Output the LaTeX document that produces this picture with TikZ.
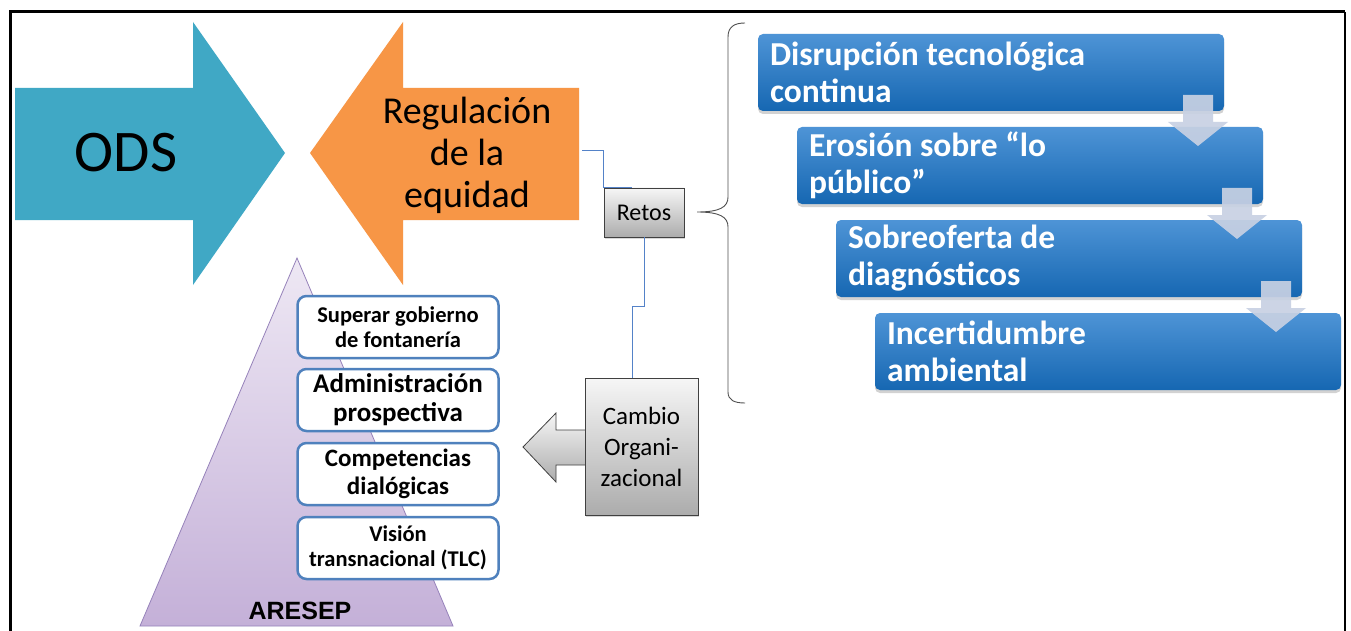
\documentclass[tikz,border=0pt]{standalone}
\usepackage{fontspec}
\setmainfont{Carlito}
\newfontfamily\arialfont{Liberation Sans}
\usetikzlibrary{shadows,calc}
\definecolor{odsTeal}{RGB}{64,168,197}
\definecolor{regOrange}{RGB}{247,150,70}
\definecolor{boxBlue}{RGB}{79,129,189}
\definecolor{connBlue}{RGB}{84,130,200}
\definecolor{blueT}{RGB}{78,148,214}
\definecolor{blueM}{RGB}{34,116,192}
\definecolor{blueB}{RGB}{22,103,178}
\definecolor{grayT}{RGB}{246,246,246}
\definecolor{grayB}{RGB}{172,172,172}
\definecolor{grayLine}{RGB}{64,64,64}
\definecolor{pyrT}{RGB}{238,232,244}
\definecolor{pyrB}{RGB}{196,176,216}
\definecolor{pyrLine}{RGB}{150,130,186}
\definecolor{arrowFill}{RGB}{200,209,227}
\definecolor{braceGray}{RGB}{80,80,80}
\tikzset{
  wbox/.style={draw=boxBlue, line width=2.5pt, fill=white, rounded corners=9pt,
    minimum width=201pt, minimum height=62pt, align=center, font=\bfseries, inner sep=2pt},
  gbox/.style={draw=grayLine, line width=0.8pt, top color=grayT, bottom color=grayB,
    align=center, inner sep=2pt,
    drop shadow={shadow xshift=1pt, shadow yshift=-1.5pt, opacity=0.3}},
  bbox/.style={rounded corners=5pt, top color=blueT, middle color=blueM, bottom color=blueB,
    minimum width=466pt, minimum height=77pt, text=white, align=flush left,
    inner xsep=12pt, text width=442pt,
    font=\bfseries\fontsize{33.5}{37}\selectfont,
    drop shadow={shadow xshift=0pt, shadow yshift=-3pt, opacity=0.35}},
  darrow/.style={fill=arrowFill, opacity=0.92},
  conn/.style={draw=connBlue, line width=0.8pt},
}
\begin{document}
\begin{tikzpicture}[x=1pt,y=-1pt]
\useasboundingbox (0,0) rectangle (1351,631);
\fill[white] (0,0) rectangle (1351,631);
% frame
\draw[line width=3pt] (10,632) -- (10,12) -- (1345,12);
\draw[line width=1.5pt] (1345,12) -- (1345,632);

% ODS arrow
\fill[odsTeal] (15,88) -- (193,88) -- (193,22) -- (285,153) -- (193,285) -- (193,220) -- (15,220) -- cycle;
\node[font=\fontsize{59}{64}\selectfont] (ods) at (126,153) {ODS};

% Regulacion arrow
\fill[regOrange] (579,88) -- (403,88) -- (403,22) -- (310,153) -- (403,285) -- (403,220) -- (579,220) -- cycle;
\node[align=center, font=\fontsize{38}{42}\selectfont] (reg) at (467,155) {Regulación\\de la\\equidad};
\coordinate (regE) at (582,150);

% pyramid
\shade[top color=pyrT, bottom color=pyrB] (297,258) -- (453,626) -- (140,626) -- cycle;
\draw[pyrLine, line width=0.8pt] (297,258) -- (453,626) -- (140,626) -- cycle;
\node[font=\arialfont\bfseries\fontsize{25}{28}\selectfont] (aresep) at (300,611) {ARESEP};

% white boxes
\node[wbox, font=\bfseries\fontsize{22.5}{25}\selectfont] (w1) at (398,327) {Superar gobierno\\de fontanería};
\node[wbox, font=\bfseries\fontsize{27}{29}\selectfont] (w2) at (398,400) {Administración\\prospectiva};
\node[wbox, font=\bfseries\fontsize{25}{28}\selectfont] (w3) at (398,474) {Competencias\\dialógicas};
\node[wbox, font=\bfseries\fontsize{22.5}{25}\selectfont] (w4) at (398,548) {Visión\\transnacional (TLC)};

% gray arrow to the pyramid
\shade[top color=grayT, bottom color=grayB, draw=grayLine, line width=0.8pt]
  (587,430) -- (556,430) -- (556,413) -- (523,447) -- (556,482) -- (556,465) -- (587,465);

% gray boxes
\node[gbox, minimum width=80pt, minimum height=49pt, font=\fontsize{24}{28}\selectfont] (retos) at (644,212.5) {Retos};
\node[gbox, minimum width=113pt, minimum height=137pt, font=\fontsize{25}{31}\selectfont] (cambio) at (641.5,446.5) {Cambio\\Organi-\\zacional};

% connectors
\draw[conn] (regE) -| (retos.north west) -- ++(28,0);
\coordinate (jog) at (632,306);
\draw[conn] (retos.south) |- (jog) -- (jog |- cambio.north);

% brace
\coordinate (brtip) at (697,212);
\draw[braceGray, line width=0.9pt] (745,23) .. controls (734,23) and (728,27) .. (728,37) -- (728,197)
  .. controls (728,207) and (720,212) .. (brtip)
  .. controls (720,212) and (728,217) .. (728,227) -- (728,392)
  .. controls (728,400) and (734,403) .. (745,403);

% blue boxes
\node[bbox] (b1) at (991,72.5) {Disrupción tecnológica\\continua};
\node[bbox] (b2) at (1030,165.5) {Erosión sobre “lo\\público”};
\node[bbox] (b3) at (1069,258.5) {Sobreoferta de\\diagnósticos};
\node[bbox] (b4) at (1108,351.5) {Incertidumbre\\ambiental};

% down arrows
\foreach \i in {0,1,2} {
  \fill[darrow, shift={(39*\i,93*\i)}] (1183,95) -- (1213,95) -- (1213,122) -- (1228,122)
    -- (1198,146) -- (1168,122) -- (1183,122) -- cycle;
}
\end{tikzpicture}
\end{document}
